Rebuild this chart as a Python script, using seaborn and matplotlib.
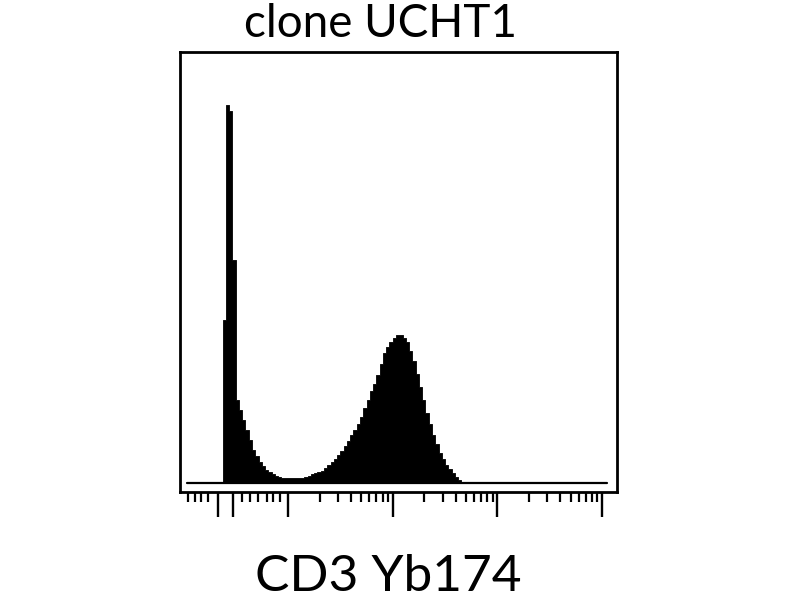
import numpy as np
import pandas as pd
import matplotlib
matplotlib.use("Agg")
import matplotlib.pyplot as plt
import seaborn as sns

# ---- data ----
# histogram in decade units of the CD3 Yb174 channel; bins of 1/32 decade
bin_start = 0.375
bin_width = 1 / 32
counts = [163, 378, 372, 223, 83, 73, 63, 53, 43, 33,
          27, 21, 17, 13, 11, 9, 7, 6, 5, 5,
          5, 5, 5, 5, 5, 6, 7, 9, 10, 11,
          12, 15, 18, 21, 24, 28, 32, 37, 42, 48,
          53, 59, 66, 75, 83, 92, 99, 108, 119, 130,
          136, 141, 145, 148, 148, 145, 141, 132, 122, 109,
          96, 83, 70, 59, 48, 39, 30, 24, 18, 14,
          10, 6, 3]
major_ticks = [0.33, 0.475, 1, 2, 3, 4]
low_minor_ticks = [0.045, 0.11, 0.17, 0.24, 0.56, 0.64, 0.71, 0.80, 0.86, 0.92]
decades = [1, 2, 3]
title_text = "clone UCHT1"
xlabel_text = "CD3 Yb174"

edges = [float(bin_start + bin_width * i) for i in range(len(counts) + 1)]
centers = [(edges[i] + edges[i + 1]) / 2 for i in range(len(counts))]
df = pd.DataFrame({"channel": centers, "count": counts})

minor_ticks = list(low_minor_ticks) + [d + np.log10(k) for d in decades for k in range(2, 10)]

sns.set_style("white")
plt.rcParams["font.family"] = ["Lato", "DejaVu Sans"]

fig = plt.figure(figsize=(8, 6), dpi=100)
ax = fig.add_axes([180 / 800, 1 - 492 / 600, 437 / 800, 440 / 600])

sns.histplot(data=df, x="channel", weights="count", bins=edges,
             element="step", fill=True, color="black", alpha=1,
             linewidth=0.6, edgecolor="black", ax=ax)
ax.axhline(0, xmin=7 / 437, xmax=427 / 437, color="black", lw=1.6)

ax.set_xlim(-0.0315, 4.142)
ax.set_ylim(-9, 431)

for s in ax.spines.values():
    s.set_visible(True)
    s.set_color("black")
    s.set_linewidth(2.0)

ax.set_xticks(major_ticks)
ax.set_xticks(minor_ticks, minor=True)
ax.tick_params(axis="x", which="major", direction="out", length=18, width=1.7,
               color="black", labelbottom=False, bottom=True)
ax.tick_params(axis="x", which="minor", direction="out", length=7.5, width=1.6,
               color="black", bottom=True)
ax.set_yticks([])
ax.set_xlabel("")
ax.set_ylabel("")

fig.text(381 / 800, 1 - 37 / 600, title_text, ha="center", va="baseline",
         fontsize=33, color="black")
fig.text(388 / 800, 1 - 591 / 600, xlabel_text, ha="center", va="baseline",
         fontsize=37, color="black")

fig.savefig("out.png", dpi=100)
